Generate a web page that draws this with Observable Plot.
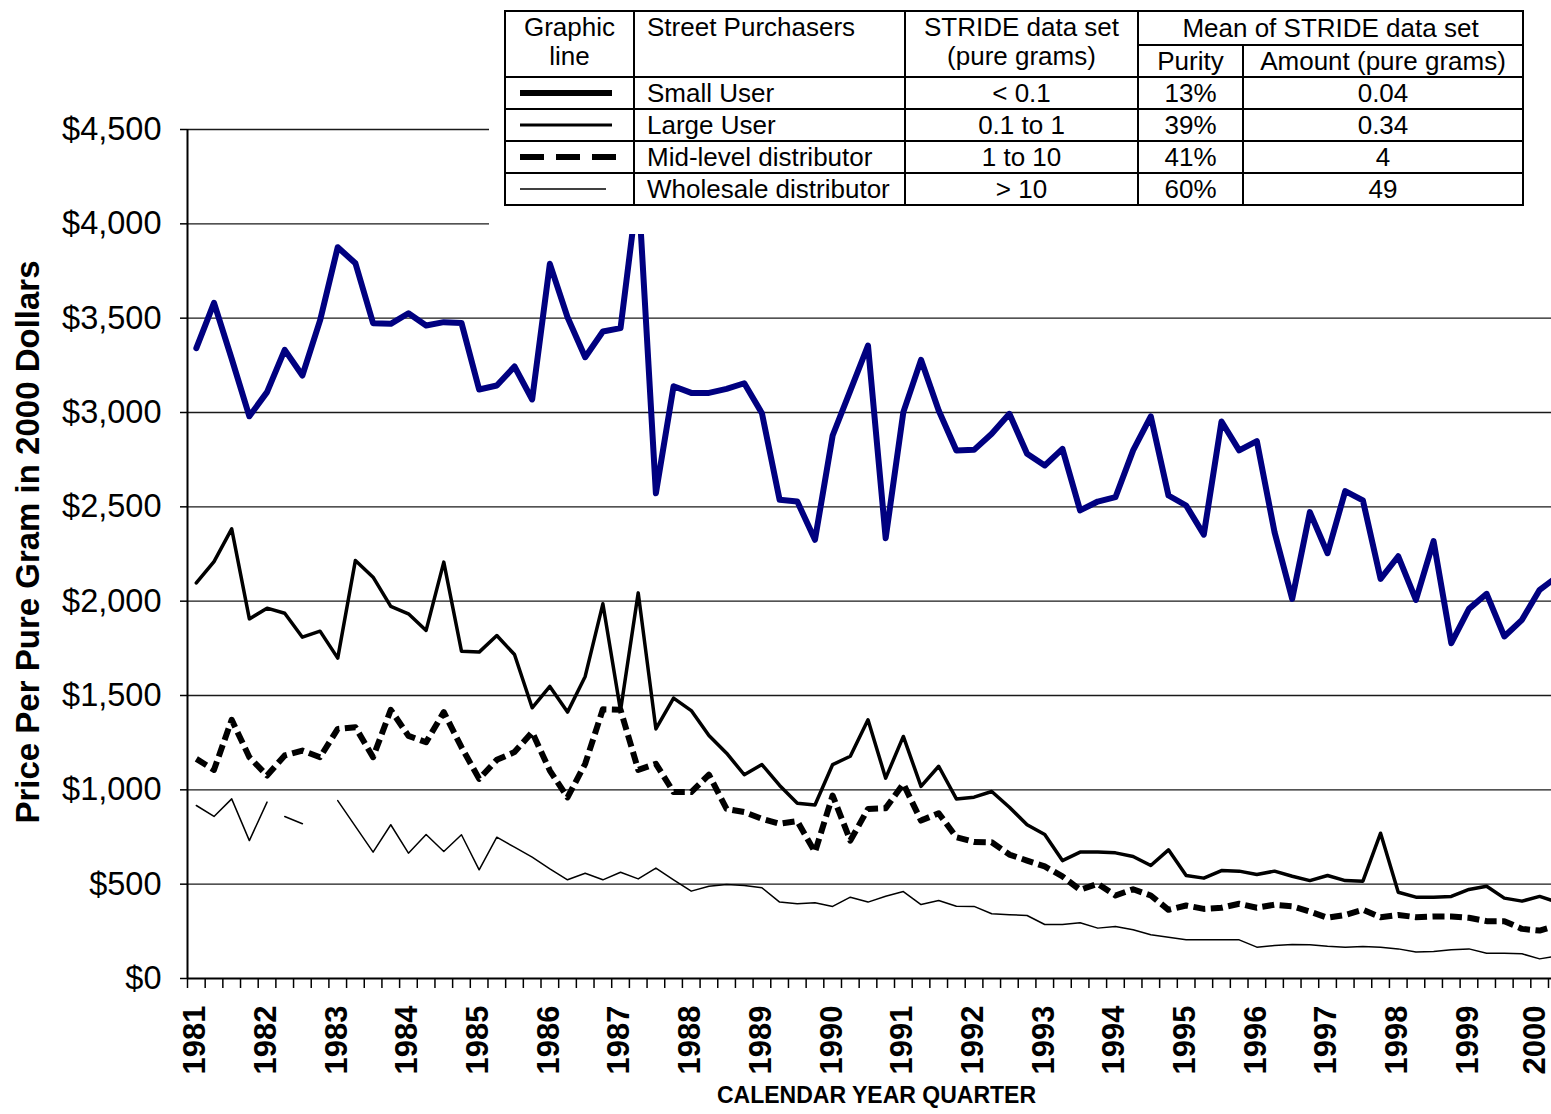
<!DOCTYPE html>
<html><head><meta charset="utf-8">
<script src="https://cdn.jsdelivr.net/npm/d3@7"></script>
<script src="https://cdn.jsdelivr.net/npm/@observablehq/plot@0.6"></script>
<style>
html,body{margin:0;padding:0;background:#fff;overflow:hidden}
#wrap{position:relative;width:1551px;height:1114px}
#cover{position:absolute;left:489px;top:0;width:1062px;height:234px;background:#fff}
#legend{position:absolute;left:504px;top:10px;border-collapse:collapse;font-family:"Liberation Sans",Arial,sans-serif;font-size:26px;table-layout:fixed;width:1018px;color:#000;background:#fff}
#legend td{border:2px solid #000;padding:0;text-align:center;line-height:29px;white-space:nowrap}
#legend td.top{vertical-align:top;padding-top:1px}
#legend td.left{text-align:left;padding-left:12px}
#legend td.sample{text-align:left;padding-left:14px;line-height:0}
</style></head><body>
<div id="wrap"><div id="chart"></div><div id="cover"></div><table id="legend"></table></div>
<script>
// ---- data ----
const yearLabels = ["1981","1982","1983","1984","1985","1986","1987","1988","1989","1990","1991","1992","1993","1994","1995","1996","1997","1998","1999","2000"];
// quarterly values, 1981 Q1 .. 2000 Q2 (price per pure gram, 2000 dollars)
const smallUser = [3341,3581,3285,2980,3108,3332,3196,3488,3876,3791,3473,3470,3526,3461,3479,3475,3122,3143,3244,3069,3788,3505,3293,3429,3447,4200,2572,3139,3104,3104,3125,3155,2996,2537,2528,2325,2878,3116,3355,2334,3002,3279,3011,2799,2802,2887,2993,2781,2719,2807,2481,2528,2551,2799,2979,2560,2507,2353,2952,2799,2848,2366,2012,2472,2254,2583,2534,2118,2238,2007,2318,1777,1959,2039,1813,1901,2060,2130];
const largeUser = [2097,2210,2383,1906,1963,1936,1809,1841,1698,2216,2127,1972,1933,1845,2207,1735,1730,1818,1717,1435,1548,1412,1601,1986,1420,2044,1323,1486,1420,1288,1194,1080,1134,1023,929,920,1134,1178,1371,1062,1283,1018,1125,952,961,991,908,815,763,625,670,670,666,647,599,682,546,532,572,569,551,569,542,519,546,519,516,770,457,431,431,435,472,489,426,410,435,404];
const midLevel = [1164,1106,1371,1173,1076,1182,1208,1173,1323,1332,1173,1424,1286,1252,1412,1226,1058,1159,1200,1306,1102,960,1138,1427,1424,1106,1138,988,988,1080,899,882,846,820,834,670,970,731,899,903,1032,837,876,749,724,722,657,625,594,541,470,502,440,473,440,364,387,369,375,396,375,391,383,355,322,337,364,325,337,325,329,329,322,304,304,263,254,281];
const wholesale = [917,859,952,731,935,859,820,null,943,806,670,815,664,763,673,762,576,749,696,643,581,523,558,523,563,528,585,523,463,489,498,493,481,405,396,401,382,431,405,436,461,392,413,383,382,343,338,334,286,286,295,267,276,258,232,219,205,205,205,205,166,175,180,179,171,166,170,166,157,140,143,152,157,134,134,131,104,119];
const wholesaleBreaks = [5]; // series line is broken before these quarters
const yTicks = [0,500,1000,1500,2000,2500,3000,3500,4000,4500];

const legendNames = ["Small User","Large User","Mid-level distributor","Wholesale distributor"];
const legendRanges = ["< 0.1","0.1 to 1","1 to 10","> 10"];
const legendPurity = ["13%","39%","41%","60%"];
const legendAmount = ["0.04","0.34","4","49"];

const xTitle = "CALENDAR YEAR QUARTER";
const yTitle = "Price Per Pure Gram in 2000 Dollars";

// ---- chart ----
const rows = (vals) => vals.map((v, i) => ({q: i, v}));
const nQ = smallUser.length;
const boundaries = d3.range(nQ).map(i => i - 0.5);
const yearIdx = yearLabels.map((_, k) => k * 4);
const lastIdx = yearIdx[yearIdx.length - 1];
const wsRows = rows(wholesale).map(d => ({...d, seg: wholesaleBreaks.filter(b => b <= d.q).length}));
const yearAxis = (ticks, dx) => Plot.axisX({ticks, tickFormat: i => yearLabels[i / 4], tickRotate: -90, tickSize: 0, tickPadding: 27, fontSize: 31, fontWeight: "bold", dx, label: null});

const chart = Plot.plot({
  width: 1551, height: 1114,
  marginLeft: 187, marginRight: 0, marginTop: 129, marginBottom: 136,
  x: {domain: [-0.5, 76.67]},
  y: {domain: [0, 4500]},
  style: {fontFamily: '"Liberation Sans", Arial, sans-serif', color: "#000", background: "#fff"},
  marks: [
    Plot.gridY(yTicks.filter(d => d > 0), {stroke: "#1a1a1a", strokeOpacity: 1, strokeWidth: 1.3}),
    Plot.line(wsRows, {x: "q", y: "v", z: "seg", stroke: "#000", strokeWidth: 1.5, strokeLinejoin: "round", clip: true}),
    Plot.line(rows(midLevel), {x: "q", y: "v", stroke: "#000", strokeWidth: 6, strokeDasharray: "12,5.5", strokeLinecap: "butt", strokeLinejoin: "round", clip: true}),
    Plot.line(rows(largeUser), {x: "q", y: "v", stroke: "#000", strokeWidth: 3.5, strokeLinejoin: "round", strokeLinecap: "round", clip: true}),
    Plot.line(rows(smallUser), {x: "q", y: "v", stroke: "#000080", strokeWidth: 6, strokeLinejoin: "round", strokeLinecap: "round", clip: true}),
    Plot.ruleY([0], {stroke: "#000", strokeWidth: 2}),
    Plot.ruleX([-0.5], {stroke: "#000", strokeWidth: 2}),
    Plot.axisY({ticks: yTicks, tickFormat: d => "$" + d3.format(",")(d), tickSize: 7, tickPadding: 19, fontSize: 32.5, strokeWidth: 1.5, label: null}),
    Plot.axisX({ticks: boundaries, tickFormat: () => "", tickSize: 10, strokeWidth: 1.5, label: null}),
    yearAxis(yearIdx.filter(i => i !== lastIdx), -1),
    yearAxis([lastIdx], -5),
    Plot.text([xTitle], {frameAnchor: "bottom", dx: 7, dy: 124, fontSize: 23, fontWeight: "bold"}),
    Plot.text([yTitle], {frameAnchor: "left", rotate: -90, textAnchor: "middle", dx: -159, dy: -12, fontSize: 33, fontWeight: "bold"})
  ]
});
document.getElementById("chart").appendChild(chart);

// ---- legend table ----
const samples = [
  {w: 6, dash: null, len: 92},
  {w: 3, dash: null, len: 92},
  {w: 6, dash: "24,12", len: 96},
  {w: 1.3, dash: null, len: 86}
];
const t = document.getElementById("legend");
let html = '<colgroup><col style="width:129px"><col style="width:271px"><col style="width:233px"><col style="width:105px"><col style="width:280px"></colgroup>';
html += '<tr style="height:34px"><td rowspan="2" class="top">Graphic<br>line</td><td rowspan="2" class="top left">Street Purchasers</td><td rowspan="2" class="top">STRIDE data set<br>(pure grams)</td><td colspan="2">Mean of STRIDE data set</td></tr>';
html += '<tr style="height:32px"><td>Purity</td><td>Amount (pure grams)</td></tr>';
legendNames.forEach((n, k) => {
  const s = samples[k];
  const svg = `<svg width="100" height="12" style="display:inline-block;vertical-align:middle"><line x1="0" x2="${s.len}" y1="6" y2="6" stroke="#000" stroke-width="${s.w}" ${s.dash ? `stroke-dasharray="${s.dash}"` : ""}/></svg>`;
  html += `<tr style="height:32px"><td class="sample">${svg}</td><td class="left">${n}</td><td>${legendRanges[k]}</td><td>${legendPurity[k]}</td><td>${legendAmount[k]}</td></tr>`;
});
t.innerHTML = html;
</script>
</body></html>
